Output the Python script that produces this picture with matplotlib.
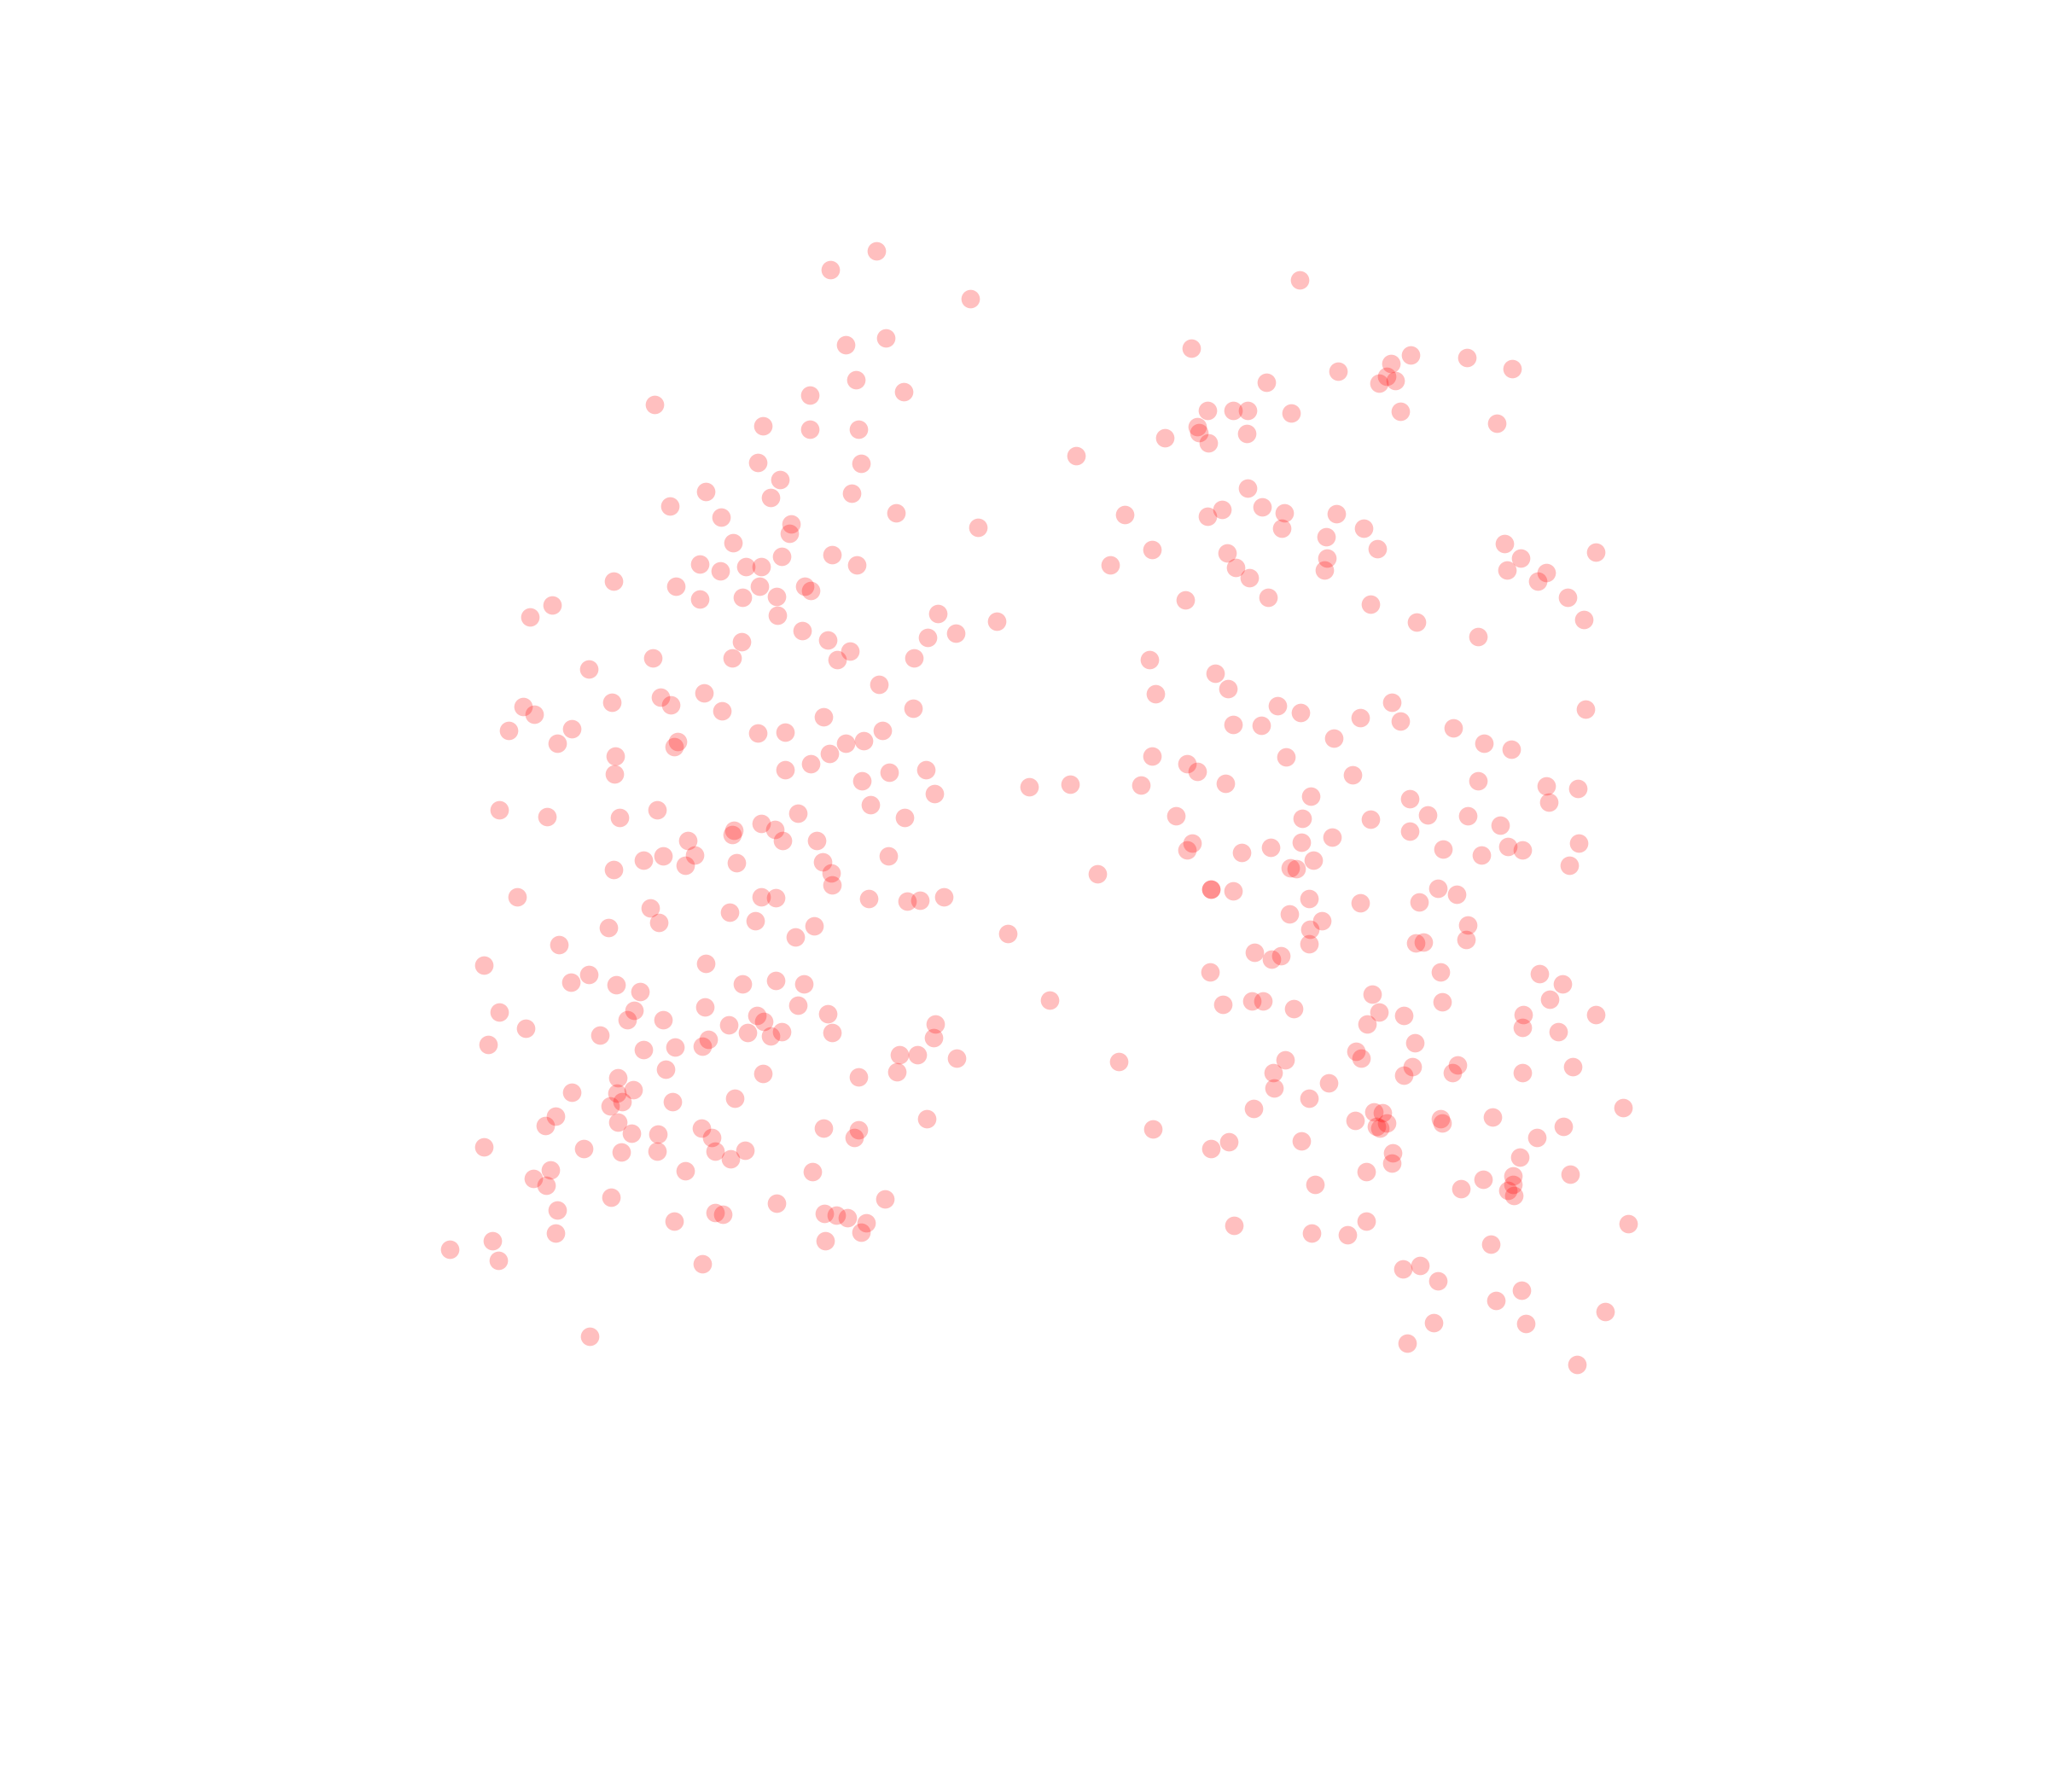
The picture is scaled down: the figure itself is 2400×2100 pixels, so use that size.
import matplotlib
matplotlib.use("Agg")
import matplotlib.pyplot as plt

# point positions (x to the right, y downward)
x = [
    767, 949, 894, 949, 888, 914, 827, 903, 785, 845, 927, 925, 859, 820, 844, 874, 892, 916, 719, 792,
    890, 943, 950, 820, 870, 910, 647,
    1027, 973, 1137, 991, 1038, 1396, 1003, 1059, 1006, 1415, 1403, 1405, 1365, 1416, 1261, 1009, 998, 1050,
    1146, 1318, 1415, 1350, 1301, 975, 1004, 1389, 1099,
    1523, 1568, 1630, 1653, 1719, 1772, 1484, 1616, 1625, 1635, 1641, 1754, 1445, 1462, 1513, 1461, 1462,
    1432, 1479, 1505, 1502, 1566, 1598, 1554, 1614, 1555, 1552, 1438, 1448, 1464, 1486, 1606, 1763, 1782,
    1766, 1812, 1802, 1870, 1837,
    621, 911, 940, 970, 869, 858, 765, 690, 613, 626, 596, 670, 653, 717, 774, 786, 825, 846, 888, 920,
    965, 794, 790, 721, 720, 920, 950, 585, 641, 726, 770, 806, 814, 803, 777, 754, 719, 860, 858, 892,
    908, 917, 935, 957, 863, 964, 606, 762, 772, 713, 855, 892, 909, 885, 932, 954, 655, 567, 827, 669,
    690, 722, 870, 909, 942,
    1168, 996, 981, 1087, 1120, 1071, 1030, 1070, 1034, 1012, 991, 972, 1042, 1085, 1010, 1095, 1020, 1060,
    1206, 1254, 1337, 1347, 1424, 1354, 1350, 1391, 1403, 1378, 1397, 1391, 974, 975, 1041, 1286, 1419,
    1419, 1018, 1063, 1078, 1106, 1181, 1418,
    1660, 1732, 1856, 1439, 1445, 1478, 1497, 1524, 1507, 1563, 1594, 1631, 1641, 1703, 1739, 1771, 1858,
    1436, 1585, 1536, 1526, 1606, 1652, 1673, 1652, 1720, 1732, 1758, 1812, 1815, 1849, 1455, 1489, 1525,
    1561, 1539, 1512, 1519, 1691, 1736, 1767, 1784, 1850, 1839, 1445, 1534, 1511, 1549, 1535, 1534, 1594,
    1663, 1685, 1707, 1720, 1718, 1659, 1668, 1470, 1490, 1501, 1688, 1804, 1831,
    750, 585, 616, 572, 743, 735, 703, 777, 826, 854, 876, 887, 895, 903, 916, 935, 970, 754, 791, 830,
    823, 780, 894, 724, 723, 742, 729, 715, 670, 651, 639, 567, 684, 724, 740, 728, 788, 861, 771, 770,
    822, 834, 838, 856, 873, 803, 965, 952, 645, 625, 640, 716, 653, 651, 790, 838, 847, 910, 966, 967,
    577, 527, 584, 823, 691,
    1230, 975, 1096, 1094, 1054, 1075, 1121, 1051, 1006, 1311, 1006, 1001, 1086, 1351, 1419, 1037, 980,
    993, 1015, 1009,
    1433, 1467, 1480, 1516, 1608, 1616, 1602, 1645, 1690, 1658, 1816, 1785, 1784, 1826, 1870, 1589, 1595,
    1506, 1492, 1493, 1557, 1534, 1469, 1655, 1645, 1708, 1702, 1784, 1843, 1902, 1610, 1620, 1588, 1625,
    1613, 1617, 1688, 1690, 1749, 1832, 1801, 1781, 1440, 1525, 1632, 1631, 1601, 1541, 1712, 1738, 1773,
    1773, 1767, 1774, 1840, 1446, 1537, 1579, 1601, 1747, 1908, 1644, 1664, 1685, 1753, 1783, 1881, 1680,
    1788, 1649, 1848,
]
y = [
    474, 463, 499, 503, 542, 562, 576, 583, 593, 606, 614, 625, 636, 661, 669, 664, 664, 652, 681, 687,
    687, 687, 692, 702, 700, 699, 709,
    294, 316, 350, 404, 396, 408, 445, 459, 503, 481, 500, 507, 513, 519, 534, 543, 578, 601,
    618, 603, 605, 644, 662, 650, 662, 703, 719,
    328, 435, 426, 416, 419, 432, 448, 449, 441, 446, 482, 496, 481, 481, 484, 508, 572,
    597, 594, 601, 619, 602, 619, 629, 643, 654, 668, 648, 665, 677, 700, 708, 637, 654,
    668, 671, 681, 647, 700,
    723, 721, 739, 750, 752, 771, 771, 784, 828, 837, 856, 854, 871, 823, 817, 826, 812, 833, 859, 858,
    840, 869, 875, 886, 907, 902, 895, 949, 957, 958, 949, 985, 1002, 1014, 1003, 1008, 1019, 973, 978, 965,
    972, 985, 953, 985, 1011, 1010, 1051, 1064, 1081, 1087, 1069, 1051, 1052, 1079, 1098, 1085, 1107, 1131, 1129, 1151,
    1142, 1154, 1153, 1149, 1153,
    728, 763, 773, 747, 742, 771, 802, 830, 856, 868, 871, 883, 905, 902, 915, 930, 943, 958,
    922, 919, 920, 773, 789, 813, 886, 895, 904, 956, 988, 996, 1023, 1037, 1003, 1024, 1042,
    1042, 1053, 1056, 1055, 1051, 1094, 1139,
    729, 746, 726, 807, 849, 850, 827, 835, 887, 865, 841, 823, 845, 853, 871, 878, 831,
    918, 908, 933, 959, 960, 936, 955, 974, 956, 915, 967, 921, 940, 924, 999, 993, 987,
    981, 1008, 1017, 1018, 995, 1002, 992, 996, 988, 1014, 1044, 1053, 1071, 1079, 1089, 1106, 1058,
    1057, 1041, 1048, 1084, 1101, 1105, 1104, 1116, 1124, 1120, 1139, 1141, 1153,
    1162, 1186, 1205, 1224, 1184, 1195, 1213, 1195, 1180, 1201, 1210, 1190, 1197, 1214, 1209, 1178, 1188, 1230, 1227, 1218,
    1226, 1253, 1258, 1263, 1281, 1277, 1291, 1296, 1280, 1308, 1319, 1344, 1346, 1315, 1328, 1350, 1291, 1287, 1329, 1349,
    1322, 1333, 1349, 1358, 1348, 1372, 1322, 1373, 1371, 1381, 1389, 1403, 1418, 1445, 1431, 1421, 1423, 1410, 1422, 1454,
    1454, 1464, 1477, 1481, 1566,
    1172, 1210, 1200, 1216, 1236, 1236, 1240, 1256, 1262, 1244, 1324, 1333, 1311, 1323, 1346, 1405, 1424,
    1427, 1433, 1444,
    1177, 1173, 1173, 1182, 1165, 1186, 1200, 1190, 1174, 1222, 1171, 1189, 1204, 1209, 1189, 1232, 1240,
    1242, 1257, 1275, 1269, 1287, 1299, 1250, 1260, 1248, 1257, 1257, 1250, 1298, 1303, 1304, 1313, 1316,
    1320, 1322, 1311, 1316, 1309, 1320, 1333, 1356, 1338, 1337, 1351, 1363, 1373, 1388, 1393, 1382, 1378,
    1388, 1395, 1401, 1376, 1436, 1445, 1447, 1431, 1458, 1434, 1487, 1483, 1501, 1524, 1512, 1537, 1550,
    1551, 1574, 1599,
]

fig = plt.figure(figsize=(8, 7), dpi=300)
ax = fig.add_axes([0, 0, 1, 1])
ax.scatter(x, y, s=27, color="red", alpha=0.25, linewidths=0)
ax.set_xlim(0, 2400)
ax.set_ylim(2100, 0)
ax.axis("off")
fig.savefig("out.png", dpi=300, facecolor="white")
